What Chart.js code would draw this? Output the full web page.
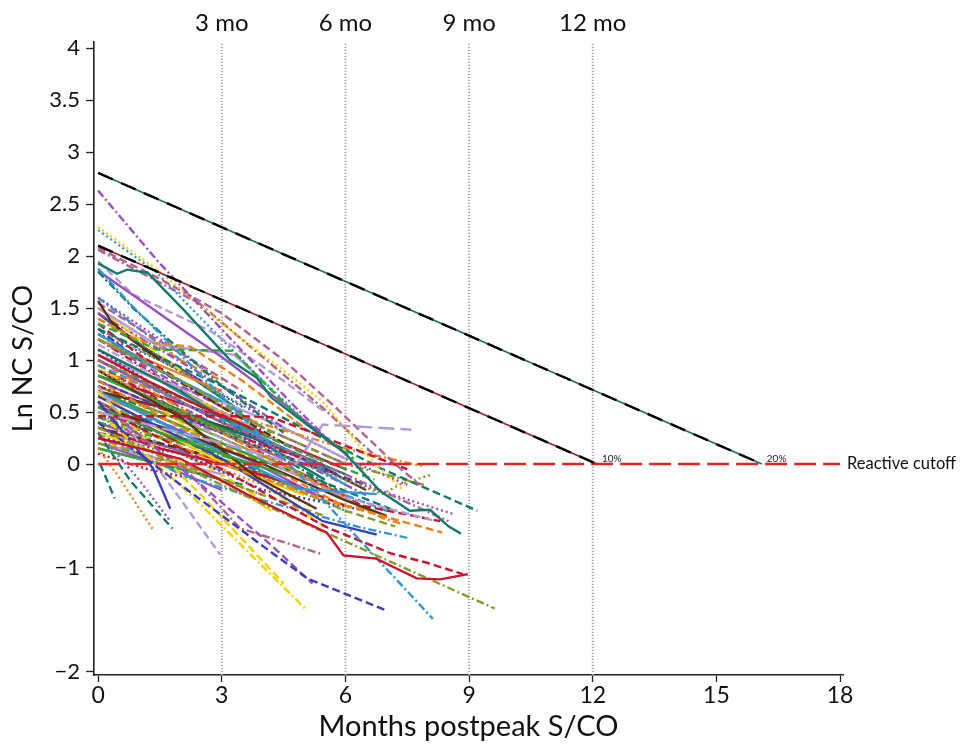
<!DOCTYPE html>
<html>
<head>
<meta charset="utf-8">
<script src="https://cdn.jsdelivr.net/npm/chart.js@4.4.1/dist/chart.umd.min.js"></script>
<style>
  html, body { margin: 0; padding: 0; background: #fff; }
  #wrap { width: 962px; height: 744px; position: relative; }
</style>
</head>
<body>
<div id="wrap"><canvas id="c" width="962" height="744"></canvas></div>
<script>
// ---------------- DATA ----------------
const xTicks = [0, 3, 6, 9, 12, 15, 18];
const yTicks = [-2, -1, 0, 0.5, 1, 1.5, 2, 2.5, 3, 3.5, 4];
const yTickLabels = ['\u22122', '\u22121', '0', '0.5', '1', '1.5', '2', '2.5', '3', '3.5', '4'];
const monthMarks = [3, 6, 9, 12];
const monthLabels = ['3 mo', '6 mo', '9 mo', '12 mo'];

// reference decay lines and cutoff
const ref20 = [[0, 2.8], [16.1, 0]];
const ref10 = [[0, 2.1], [12.1, 0]];
const refLabels = ['20%', '10%'];
const cutoff = [[0, 0], [18, 0]];
const cutoffLabel = 'Reactive cutoff';

// individual donor trajectories, grouped by colour  [months, ln S/CO]
const tealLines = [
  [[0,1.93],[0.46,1.83],[0.7,1.87],[1.2,1.84],[2.06,1.49],[3.2,1.0],[3.85,0.83],[4.2,0.64],[5,0.4],[6,0.1],[6.84,-0.26],[7.56,-0.45],[8.05,-0.44],[8.5,-0.6],[8.8,-0.67]],
  [[0,1.85],[0.85,1.5],[1.67,1.21],[3,0.75],[4.5,0.3]],
  [[0,1.3],[3,0.75],[6.9,-0.05],[9.2,-0.45]],
  [[0.05,0.0],[0.4,-0.33]],
  [[0,0.3],[0.78,-0.16],[1.8,-0.62]],
  [[0,0.85],[1.5,0.6],[3,0.35],[4.5,0.15],[6,-0.1]],
  [[0,1.1],[2,0.7],[4,0.2],[5.5,-0.15]],
  [[0,0.45],[2.5,0.2],[5,-0.1],[7.2,-0.45]],
  [[0,1.25],[1.5,1.0],[3.5,0.55]],
  [[0,0.15],[2,-0.05],[3.5,-0.2]],
  [[0,0.7],[1.5,0.5],[3,0.3],[4.5,0.05],[5.8,-0.25]],
  [[0,1.45],[1,1.15],[2.2,0.85],[3.5,0.5]]
];
const redLines = [
  [[0,0.25],[2,0.05],[3.6,-0.29],[4.7,-0.5],[5.55,-0.66],[5.95,-0.88],[6.75,-0.91],[7,-0.96],[7.73,-1.1],[8.3,-1.11],[8.97,-1.06]],
  [[0,0.46],[3.44,0.46],[4.2,0.45],[5.07,0.32],[6.5,0.1],[7.5,-0.05]],
  [[0,0.55],[3,-0.05],[5.5,-0.6],[7.1,-0.86],[7.98,-0.95],[8.85,-1.06]],
  [[0,1.05],[1.2,0.8],[2.5,0.55],[4,0.3]],
  [[0,0.75],[1,0.6],[2.2,0.45],[3.5,0.25],[5,0.05]],
  [[0,1.35],[1,1.05],[2,0.8],[3,0.55]],
  [[0,0.35],[1.5,0.15],[3,0.0],[4.8,-0.2]],
  [[0,0.95],[2,0.5],[4.5,0.0],[6.4,-0.4],[8.3,-0.55]],
  [[0,0.6],[1,0.4],[2,0.2]],
  [[0,0.1],[1.2,-0.05],[2.4,-0.15]],
  [[0,0.85],[1.5,0.65],[3,0.45],[4.5,0.2],[6,-0.05]],
  [[0,1.2],[1,0.95],[2.5,0.6],[4,0.25],[5.5,-0.05]],
  [[0,0.3],[2,0.15],[4,-0.1],[6,-0.4]]
];
const purpleLines = [
  [[0,2.63],[1.45,1.95],[4.65,0.6],[5.8,0.15]],
  [[0,1.86],[3.03,1.02],[4.6,0.55],[6,0.1]],
  [[0,0.6],[2.5,-0.2],[4.17,-0.77],[5.2,-1.15]],
  [[0,0.3],[0.95,-0.13],[1.75,-0.55]],
  [[0,1.0],[3,0.4],[6,-0.15],[8.6,-0.48]],
  [[0,1.45],[1.5,1.1],[3,0.75],[4.5,0.35]],
  [[0,0.7],[1.8,0.35],[3.6,0.05],[5.3,-0.3]],
  [[0,1.2],[2,0.75],[4,0.35],[6,0.0],[7.6,0.0]],
  [[0,0.4],[1,0.25],[2.2,0.1]],
  [[0,1.6],[1.5,1.2],[2.8,0.85]],
  [[0,0.9],[1.5,0.65],[3,0.35],[5,0.0],[6.5,-0.3]],
  [[0,0.2],[1.5,0.0],[3,-0.25]],
  [[0,1.3],[2,0.9],[4,0.45],[6,0.05],[7.5,-0.2]]
];
const lavenderLines = [
  [[0,0.5],[3,0.2],[4.8,0.0],[5.45,0.38],[7.6,0.33]],
  [[0,1.95],[0.85,1.63],[2.72,1.28],[4.5,0.8],[5.5,0.5]],
  [[0,0.75],[1.8,-0.23],[2.96,-0.87]],
  [[0,1.5],[1.4,1.15],[3.3,1.05],[4,0.8]],
  [[0,0.9],[2,0.45],[4,0.05],[5.8,-0.3],[8.2,-0.55]],
  [[0,0.2],[1.5,0.05],[3,-0.1]],
  [[0,1.15],[3,0.5],[5.5,0.0]],
  [[0,1.05],[1.5,0.8],[3,0.6],[4.5,0.35],[6,0.05]],
  [[0,0.35],[1,0.2],[2,0.1],[3.2,-0.1]]
];
const yellowLines = [
  [[0,2.28],[1.5,1.85],[3,1.35],[4.5,0.9],[5.45,0.6],[6.6,0.05],[7.4,-0.25]],
  [[0,0.5],[2.23,-0.29],[5.07,-1.41]],
  [[0,0.7],[2.5,-0.3],[4.5,-1.15]],
  [[0,0.67],[1.2,0.4],[2.47,0.12],[3.3,-0.04],[5,-0.3]],
  [[0,1.5],[1,1.2],[2,0.9]],
  [[0,0.3],[1.5,0.1],[3,-0.15],[4.2,-0.45]],
  [[0,0.95],[2,0.4],[4,-0.2],[5.5,-0.6]],
  [[0,1.1],[1.5,0.8],[3,0.5],[4.5,0.2]],
  [[0,0.45],[1.5,0.2],[3,-0.1],[4,-0.35]]
];
const orangeLines = [
  [[0,1.4],[1.02,1.18],[2.23,1.13],[3.5,0.8],[5,0.35]],
  [[0,0.15],[0.46,-0.1],[1.33,-0.63]],
  [[0,0.5],[3,0.0],[5.5,-0.35],[6.9,-0.5],[8.35,-0.66]],
  [[0,0.8],[2,0.35],[4,0.0],[5.95,-0.4],[6.5,-0.43]],
  [[0,1.0],[3,0.3],[6.9,-0.52],[7.4,-0.58]],
  [[0,1.2],[1.5,0.95],[3,0.7]],
  [[0,0.9],[3,0.5],[6,0.15],[7.85,-0.02]],
  [[0,0.25],[1,0.1],[2.5,-0.1]],
  [[0,0.65],[1.5,0.45],[3,0.2],[4.5,-0.05],[6,-0.3]],
  [[0,1.5],[1,1.25],[2,1.0],[3,0.8]],
  [[0,0.4],[2,0.1],[4,-0.2],[5.2,-0.4]]
];
const oliveLines = [
  [[0,0.35],[4.9,-0.55],[9.62,-1.39]],
  [[0,0.9],[3,0.3],[6.9,-0.29],[7.3,-0.2],[8.1,-0.1]],
  [[0,1.2],[2,0.8],[4,0.35],[6,0.0],[7.9,-0.2]],
  [[0,0.6],[1.5,0.35],[3,0.1]],
  [[0,0.2],[2,0.0],[4,-0.3],[5.5,-0.5]],
  [[0,1.05],[2,0.6],[3.5,0.3]],
  [[0,0.75],[1.5,0.5],[3,0.25],[5,-0.1]],
  [[0,1.4],[1,1.15],[2,0.9],[3,0.65]],
  [[0,0.45],[2,0.2],[4,-0.1],[6,-0.45],[7.2,-0.6]]
];
const navyLines = [
  [[0,0.4],[2,-0.2],[3.93,-0.77],[5.07,-1.1],[7.0,-1.41]],
  [[0,0.6],[1.33,-0.04],[1.75,-0.43]],
  [[0,0.65],[3,0.05],[5.45,-0.55],[6.76,-0.68]],
  [[0,1.1],[2,0.6],[4,0.2]],
  [[0,0.8],[1.5,0.55],[3,0.3],[5,0.0],[6.5,-0.2]],
  [[0,1.3],[1,1.0],[2.5,0.7]],
  [[0,0.25],[2,0.1],[4,-0.25],[6.5,-0.45]],
  [[0,1.0],[1.5,0.7],[3,0.4],[4.5,0.15],[5.8,-0.1]],
  [[0,0.5],[1.5,0.3],[3,0.1],[4.3,-0.15]],
  [[0,1.45],[1.2,1.1],[2.5,0.8]]
];
const lightBlueLines = [
  [[0,1.88],[0.78,1.54],[3,0.65],[5,-0.15],[6.67,-0.87],[8.12,-1.49]],
  [[0,2.25],[1.4,1.85],[2.5,1.4],[4,0.8],[5.2,0.35]],
  [[0,0.7],[2,0.3],[4.9,-0.24],[6.76,-0.29]],
  [[0,1.25],[1.5,0.9],[3,0.6]],
  [[0,0.95],[2,0.6],[4,0.25],[5.5,-0.05]],
  [[0,0.45],[1.2,0.25],[2.5,0.05]],
  [[0,0.3],[2,-0.1],[4,-0.35],[6.36,-0.61],[7.5,-0.71]],
  [[0,1.1],[1.5,0.8],[3,0.45],[4.5,0.15],[6,-0.2]],
  [[0,0.55],[1.5,0.4],[3,0.2],[4.5,-0.05],[6,-0.3],[7,-0.45]],
  [[0,1.6],[1,1.3],[2,1.0]]
];
const greenLines = [
  [[0,1.35],[1.43,1.1],[3.27,1.09],[3.9,0.83],[5,0.4],[6.2,0.05]],
  [[0,0.55],[1.5,0.3],[3,0.1],[4.5,-0.1]],
  [[0,0.85],[2,0.5],[3.5,0.25]],
  [[0,0.15],[1,0.05],[2,-0.05]],
  [[0,1.0],[2.5,0.55],[5,0.1],[6.7,-0.15]],
  [[0,0.4],[1,0.3],[2.5,0.15],[4,-0.05]],
  [[0,0.7],[1.5,0.45],[3,0.2],[4.5,-0.05]],
  [[0,1.2],[1.5,0.9],[3,0.6],[4.2,0.3]],
  [[0,0.25],[1.5,0.15],[3,0.0],[4.5,-0.2],[6,-0.45]]
];
const brownLines = [
  [[0,1.57],[0.3,1.38],[0.8,1.2],[1.5,1.0]],
  [[0,0.9],[2,0.45],[3.85,-0.13],[5.3,-0.43]],
  [[0,0.55],[2,0.3],[4,0.0],[6,-0.35],[7,-0.5]],
  [[0,0.35],[1.5,0.2],[3,0.05]],
  [[0,1.25],[1.5,0.9],[3,0.55],[4.5,0.2]],
  [[0,0.7],[2,0.5],[3.5,0.3],[5,0.05],[6.5,-0.25]]
];
const mauveLines = [
  [[0,2.08],[1.5,1.78],[3,1.45],[4.5,1.0],[5.8,0.53],[7.2,0.0],[7.8,-0.2]],
  [[0,2.06],[2.47,1.54],[5.45,0.54],[6.8,0.05]],
  [[0,1.0],[3,0.4],[6,-0.1],[8.5,-0.55]],
  [[0,0.5],[2,0.0],[3.45,-0.62],[5.45,-0.87]],
  [[0,1.3],[1.5,1.0],[3,0.7]],
  [[0,0.8],[1.5,0.55],[3,0.3],[4.5,0.05]],
  [[0,1.55],[1.2,1.25],[2.5,0.95],[3.5,0.7]],
  [[0,0.2],[1.5,0.05],[3,-0.15],[4,-0.3]]
];

// ---------------- STYLES ----------------
const DASH = { solid: [], dash: [8, 4], dot: [2, 3], dashdot: [8, 3, 2, 3], longdash: [16, 6] };
const groups = [
  { lines: tealLines,      color: '#137a6a', styles: ['solid','dashdot','dash','dash','dash','solid','solid','dash','dot','solid','dashdot','solid'] },
  { lines: redLines,       color: '#c8142c', styles: ['solid','dash','dash','solid','dashdot','dash','solid','dash','solid','dot','solid','dashdot','dash'] },
  { lines: purpleLines,    color: '#9b4fc0', styles: ['dashdot','solid','dash','dot','dot','dashdot','solid','dash','solid','dot','dashdot','solid','dot'] },
  { lines: lavenderLines,  color: '#b49bd8', styles: ['longdash','dash','dash','solid','dash','solid','dashdot','solid','dash'] },
  { lines: yellowLines,    color: '#f2d200', styles: ['dot','dashdot','dash','solid','dashdot','solid','dashdot','solid','dash'] },
  { lines: orangeLines,    color: '#e6841e', styles: ['dash','dot','dash','dash','dashdot','solid','dashdot','dash','solid','dash','dot'] },
  { lines: oliveLines,     color: '#8a9a2a', styles: ['dashdot','dot','dashdot','dash','dash','dot','solid','dashdot','dash'] },
  { lines: navyLines,      color: '#3b3fb2', styles: ['dash','solid','solid','dot','dash','dash','dot','solid','dashdot','solid'] },
  { lines: lightBlueLines, color: '#2f98d8', styles: ['dashdot','dot','solid','solid','dash','dot','dashdot','solid','dash','dashdot'] },
  { lines: greenLines,     color: '#35a33a', styles: ['dash','solid','solid','solid','dash','dashdot','solid','dash','dot'] },
  { lines: brownLines,     color: '#5a3213', styles: ['solid','solid','solid','dash','dashdot','solid'] },
  { lines: mauveLines,     color: '#b2628f', styles: ['dash','dashdot','dashdot','dashdot','dot','solid','dash','dot'] }
];

const X_MIN = -0.1, X_MAX = 18.07, Y_MIN = -2.03, Y_MAX = 4.06;

const toXY = pts => pts.map(p => ({ x: p[0], y: p[1] }));
const datasets = [];

// top-most: reference lines (lowest order is drawn last / on top)
datasets.push({ data: toXY(ref20), borderColor: '#000', borderDash: [16, 9], borderWidth: 2.4, order: 0 });
datasets.push({ data: toXY(ref20), borderColor: '#1f6f5e', borderWidth: 1.8, order: 1 });
datasets.push({ data: toXY(ref10), borderColor: '#000', borderDash: [16, 9], borderWidth: 2.4, order: 0 });
datasets.push({ data: toXY(ref10), borderColor: '#a3202c', borderWidth: 1.8, order: 1 });
datasets.push({ data: toXY(cutoff), borderColor: '#e3242b', borderDash: [22, 7], borderWidth: 2.6, order: 2 });

// individual trajectories, interleaved across colours
let maxLen = Math.max(...groups.map(g => g.lines.length));
let ord = 10;
for (let i = 0; i < maxLen; i++) {
  groups.forEach(g => {
    if (i < g.lines.length) {
      datasets.push({
        data: toXY(g.lines[i]),
        borderColor: g.color,
        borderDash: DASH[g.styles[i]] || [],
        borderWidth: 2.4,
        order: ord++
      });
    }
  });
}
// month guide lines (drawn beneath)
monthMarks.forEach(m => {
  datasets.push({ data: [{ x: m, y: Y_MIN }, { x: m, y: Y_MAX }], borderColor: '#a8a8a8', borderDash: [1.2, 1.8], borderWidth: 2, order: 1000 });
});

const FONT = 'Lato, "Open Sans", sans-serif';

const labelPlugin = {
  id: 'labels',
  afterDatasetsDraw(chart) {
    const { ctx, scales: { x, y }, chartArea } = chart;
    ctx.save();
    ctx.fillStyle = '#111';
    ctx.font = '24px ' + FONT;
    ctx.textAlign = 'center';
    ctx.textBaseline = 'alphabetic';
    monthMarks.forEach((m, i) => ctx.fillText(monthLabels[i], x.getPixelForValue(m), 31));
    ctx.font = '10px ' + FONT;
    ctx.textAlign = 'left';
    ctx.fillStyle = '#222';
    ctx.fillText(refLabels[0], x.getPixelForValue(ref20[1][0]) + 5, y.getPixelForValue(0) - 2);
    ctx.fillText(refLabels[1], x.getPixelForValue(ref10[1][0]) + 5, y.getPixelForValue(0) - 2);
    ctx.font = '16.5px ' + FONT;
    ctx.fillStyle = '#111';
    ctx.textBaseline = 'middle';
    ctx.fillText(cutoffLabel, chartArea.right + 4, y.getPixelForValue(0));
    ctx.restore();
  }
};

new Chart(document.getElementById('c'), {
  type: 'scatter',
  data: { datasets: datasets.map(d => Object.assign({ showLine: true, pointRadius: 0, pointHoverRadius: 0, tension: 0, fill: false }, d)) },
  options: {
    responsive: false,
    animation: false,
    events: [],
    layout: { padding: { top: 42, right: 119, left: 0, bottom: 0 } },
    plugins: { legend: { display: false }, tooltip: { enabled: false } },
    scales: {
      x: {
        type: 'linear', min: X_MIN, max: X_MAX,
        afterBuildTicks: s => { s.ticks = xTicks.map(v => ({ value: v })); },
        afterFit: s => { s.height = 69; },
        grid: { display: true, drawOnChartArea: false, drawTicks: true, tickLength: 7, tickColor: '#222', tickWidth: 1.3 },
        border: { display: true, color: '#222', width: 1.6 },
        ticks: { font: { family: FONT, size: 23 }, color: '#111', padding: 0, maxRotation: 0, autoSkip: false },
        title: { display: true, text: 'Months postpeak S/CO', font: { family: FONT, size: 29 }, color: '#111', padding: { top: 0, bottom: 0 } }
      },
      y: {
        type: 'linear', min: Y_MIN, max: Y_MAX,
        afterBuildTicks: s => { s.ticks = yTicks.map(v => ({ value: v })); },
        afterFit: s => { s.width = 94; },
        grid: { display: true, drawOnChartArea: false, drawTicks: true, tickLength: 8, tickColor: '#222', tickWidth: 1.3 },
        border: { display: true, color: '#222', width: 1.6 },
        ticks: { font: { family: FONT, size: 22 }, color: '#111', padding: 6, autoSkip: false,
                 callback: (v, i) => yTickLabels[i] },
        title: { display: true, text: 'Ln NC S/CO', font: { family: FONT, size: 27 }, color: '#111', padding: { top: 7, bottom: 0 } }
      }
    }
  },
  plugins: [labelPlugin]
});
</script>
</body>
</html>
